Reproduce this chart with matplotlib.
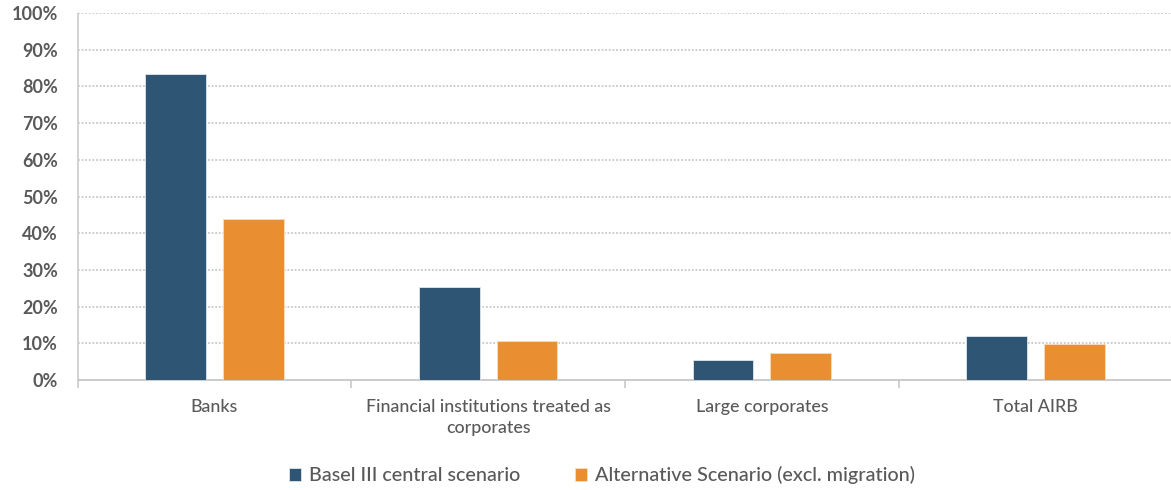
import matplotlib.pyplot as plt
import numpy as np
from matplotlib.ticker import PercentFormatter

categories = ["Banks", "Financial institutions treated as\ncorporates", "Large corporates", "Total AIRB"]
basel_central = [83.5, 25.4, 5.4, 11.9]
alternative = [44.0, 10.7, 7.3, 9.8]
series_names = ["Basel III central scenario", "Alternative Scenario (excl. migration)"]

plt.rcParams['font.family'] = ['Lato', 'DejaVu Sans']

fig = plt.figure(figsize=(11.71, 4.9), dpi=100)
ax = fig.add_axes([77.5/1171, 1 - 380/490, 1095/1171, 367/490])

x = np.arange(len(categories))
w = 0.222
ax.bar(x - 0.142, basel_central, w, color='#2E5573', edgecolor='#dfe6ec', linewidth=0.6, label=series_names[0], zorder=3)
ax.bar(x + 0.142, alternative, w, color='#E98F31', edgecolor='#f8dcbc', linewidth=0.6, label=series_names[1], zorder=3)

ax.set_xlim(-0.5, 3.5)
ax.set_ylim(0, 100)
ax.set_yticks(np.arange(0, 101, 10))
ax.yaxis.set_major_formatter(PercentFormatter(decimals=0))
ax.grid(axis='y', color='#c8c8c8', linestyle=(0, (1, 1)), linewidth=1.3, zorder=0)

ax.set_xticks(x)
ax.set_xticklabels(categories, fontsize=12.8, color='#595959', fontweight='medium', linespacing=1.35)
ax.set_xticks(np.arange(-0.5, 3.6, 1), minor=True)
ax.tick_params(axis='x', which='major', length=0, pad=14)
ax.tick_params(axis='x', which='minor', length=6, color='#c8c8c8', width=1.2)
ax.tick_params(axis='y', length=0, pad=14, labelsize=13, labelcolor='#595959')
for lbl in ax.get_yticklabels():
    lbl.set_fontweight('bold')

for s in ['top', 'right']:
    ax.spines[s].set_visible(False)
ax.spines['left'].set_color('#d0d0d0')
ax.spines['left'].set_linestyle((0, (1, 1)))
ax.spines['left'].set_linewidth(1.3)
ax.spines['bottom'].set_color('#c8c8c8')
ax.spines['bottom'].set_linewidth(1.3)

fig.legend(loc='center', bbox_to_anchor=(0.514, 0.03), ncol=2, frameon=False,
           prop={'size': 14.2, 'weight': 'medium'}, labelcolor='#595959',
           handlelength=0.6, handleheight=0.6, handletextpad=0.4, columnspacing=2.8)

fig.savefig('out.png', dpi=100)
